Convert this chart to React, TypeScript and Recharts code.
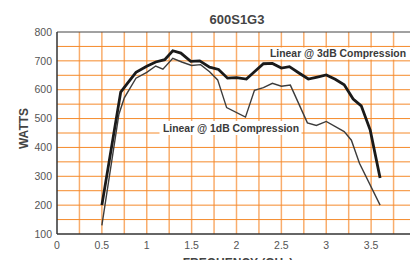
import React from 'react';
import { LineChart, Line, XAxis, YAxis, ReferenceLine } from 'recharts';

// frequency (GHz) and watts, per curve
const freq3dB = [0.5, 0.71, 0.78, 0.88, 1.0, 1.1, 1.2, 1.29, 1.38, 1.49, 1.59, 1.7, 1.8, 1.9, 2.0, 2.11, 2.2, 2.3, 2.4, 2.5, 2.59, 2.7, 2.8, 2.9, 3.0, 3.1, 3.2, 3.3, 3.39, 3.49, 3.6];
const watts3dB = [200, 592, 620, 660, 681, 696, 704, 735, 727, 698, 700, 678, 670, 640, 642, 637, 662, 690, 691, 675, 680, 657, 637, 644, 651, 636, 617, 568, 544, 460, 294];

const freq1dB = [0.5, 0.69, 0.75, 0.88, 1.0, 1.1, 1.18, 1.29, 1.39, 1.5, 1.6, 1.7, 1.79, 1.89, 2.1, 2.2, 2.3, 2.4, 2.5, 2.6, 2.79, 2.89, 3.0, 3.2, 3.28, 3.37, 3.6];
const watts1dB = [130, 515, 572, 640, 660, 682, 671, 709, 696, 684, 687, 662, 634, 538, 505, 598, 607, 622, 612, 616, 485, 476, 490, 455, 425, 345, 200];

const xTicks = [0, 0.5, 1, 1.5, 2, 2.5, 3, 3.5];
const yTicks = [100, 200, 300, 400, 500, 600, 700, 800];
const gridX = [0.25, 0.5, 0.75, 1, 1.25, 1.5, 1.75, 2, 2.25, 2.5, 2.75, 3, 3.25, 3.5, 3.75];
const gridY = [150, 200, 250, 300, 350, 400, 450, 500, 550, 600, 650, 700, 750];

const data3dB = freq3dB.map((f, i) => ({ f, w: watts3dB[i] }));
const data1dB = freq1dB.map((f, i) => ({ f, w: watts1dB[i] }));

const FONT = '"Liberation Sans", Arial, Helvetica, sans-serif';

export default function App() {
  return (
    <div
      style={{
        position: 'absolute',
        left: 0,
        top: 0,
        width: 410,
        height: 260,
        overflow: 'hidden',
        background: '#fff',
        fontFamily: FONT,
      }}
    >
      <LineChart width={430} height={280} margin={{ top: 32, right: 14, bottom: 16, left: 0 }}>
        <XAxis
          type="number"
          dataKey="f"
          domain={[0, 4]}
          ticks={xTicks}
          allowDataOverflow
          height={30}
          tickLine={false}
          tickSize={6}
          tickMargin={2}
          axisLine={{ stroke: '#333', strokeWidth: 1.5 }}
          tick={{ fontSize: 10.5, fill: '#555', fontFamily: FONT }}
        />
        <YAxis
          type="number"
          dataKey="w"
          domain={[100, 800]}
          ticks={yTicks}
          allowDataOverflow
          width={57}
          tickLine={false}
          tickSize={3}
          tickMargin={2}
          axisLine={{ stroke: '#333', strokeWidth: 1.5 }}
          tick={{ fontSize: 10.5, fill: '#555', fontFamily: FONT }}
        />
        {gridX.map((v) => (
          <ReferenceLine key={'gx' + v} x={v} stroke="#f9ad6c" strokeWidth={1.5} />
        ))}
        {gridY.map((v) => (
          <ReferenceLine key={'gy' + v} y={v} stroke="#f58a2a" strokeWidth={1} />
        ))}
        <ReferenceLine y={800} stroke="#444" strokeWidth={1} />
        <Line
          data={data1dB}
          dataKey="w"
          type="linear"
          stroke="#3c3c3c"
          strokeWidth={1.4}
          dot={false}
          isAnimationActive={false}
        />
        <Line
          data={data3dB}
          dataKey="w"
          type="linear"
          stroke="#1a1a1a"
          strokeWidth={2.8}
          dot={false}
          isAnimationActive={false}
        />
      </LineChart>
      <svg
        width={410}
        height={260}
        style={{ position: 'absolute', left: 0, top: 0, pointerEvents: 'none' }}
      >
        <text x={237} y={23.5} textAnchor="middle" fontSize={13} fontWeight="bold" fill="#444" fontFamily={FONT}>
          600S1G3
        </text>
        <text
          transform="translate(28.3,128.5) rotate(-90)"
          textAnchor="middle"
          fontSize={12}
          fontWeight="bold"
          fill="#444"
          fontFamily={FONT}
        >
          WATTS
        </text>
        <text x={238} y={266.6} textAnchor="middle" fontSize={12} fontWeight="bold" fill="#444" fontFamily={FONT}>
          FREQUENCY (GHz)
        </text>
        <rect x={266} y={47.5} width={144} height={12} fill="#fff" />
        <text x={270} y={56.8} fontSize={10.4} fontWeight="bold" fill="#3a3a3a" fontFamily={FONT}>
          Linear @ 3dB Compression
        </text>
        <rect x={159.5} y={121} width={142} height={14} fill="#fff" />
        <text x={163} y={131.7} fontSize={10.4} fontWeight="bold" fill="#3a3a3a" fontFamily={FONT}>
          Linear @ 1dB Compression
        </text>
      </svg>
    </div>
  );
}
